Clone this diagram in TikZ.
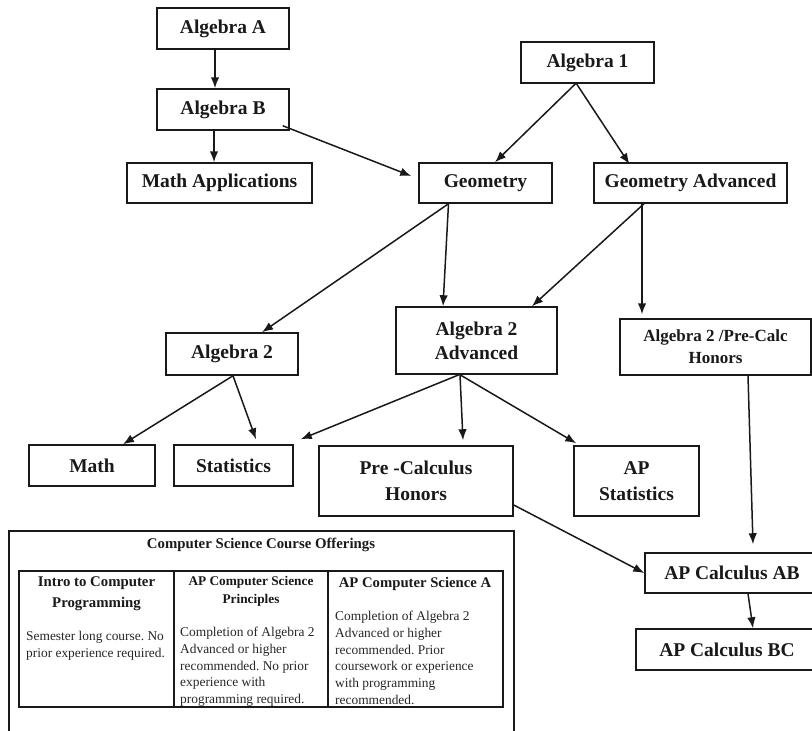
\documentclass[tikz,border=0pt]{standalone}
\usepackage{fontspec}
\setmainfont{Liberation Serif}
\usetikzlibrary{arrows.meta}
\tikzset{
  box/.style={draw=black!90, line width=1.5pt, fill=white, text=black!90, align=center, inner sep=0pt,
    font=\bfseries\fontsize{19.5}{22}\selectfont},
  arr/.style={-{Latex[length=11pt,width=8.5pt]}, line width=1.5pt, draw=black!90},
  bodytext/.style={anchor=north west, inner sep=0pt, align=left, text=black!85,
    font=\fontsize{13.4}{16.7}\selectfont},
  headtext/.style={inner sep=0pt, align=center, text=black!90},
}
\frenchspacing
\begin{document}
\begin{tikzpicture}[x=1pt,y=-1pt]
\useasboundingbox (0,0) rectangle (812,731);
\clip (0,0) rectangle (812,731);
% course boxes
\node[box, minimum width=132pt, minimum height=41pt] (algA) at (223,28.5) {Algebra A};
\node[box, minimum width=132pt, minimum height=41pt] (algB) at (223,109.5) {Algebra B};
\node[box, minimum width=185pt, minimum height=40pt] (mathapp) at (219.5,183) {Math Applications};
\node[box, minimum width=133pt, minimum height=41pt] (alg1) at (587.5,62.5) {Algebra 1};
\node[box, minimum width=133pt, minimum height=40pt] (geom) at (485.5,183) {Geometry};
\node[box, minimum width=193pt, minimum height=40pt] (geomadv) at (690.5,183) {Geometry Advanced};
\node[box, minimum width=132pt, minimum height=42pt] (alg2) at (232,354) {Algebra 2};
\node[box, minimum width=161pt, minimum height=67pt, font=\bfseries\fontsize{19.5}{24}\selectfont] (alg2adv) at (476.5,340.5) {Algebra 2\\Advanced};
\node[box, minimum width=191pt, minimum height=56pt, font=\bfseries\fontsize{17}{22}\selectfont] (alg2pc) at (715.5,347) {Algebra 2 /Pre-Calc\\Honors};
\node[box, minimum width=126pt, minimum height=41pt] (math) at (92,465.5) {Math};
\node[box, minimum width=119pt, minimum height=41pt] (stats) at (233.5,465.5) {Statistics};
\node[box, minimum width=194pt, minimum height=70pt, font=\bfseries\fontsize{19.5}{26}\selectfont] (precalc) at (416,481) {Pre -Calculus\\Honors};
\node[box, minimum width=125pt, minimum height=70pt, font=\bfseries\fontsize{19.5}{26}\selectfont] (apstats) at (636.5,481) {AP\\Statistics};
\node[box, minimum width=174pt, minimum height=40pt] (apab) at (732,573) {AP Calculus AB};
\node[box, minimum width=182pt, minimum height=41pt] (apbc) at (727,649.5) {AP Calculus BC};
% connectors
\draw[arr] ([xshift=-8pt]algA.south) -- ([xshift=-8pt]algB.north);
\draw[arr] ([xshift=-9pt]algB.south) -- ([xshift=-5.5pt]mathapp.north);
\draw[arr] ([xshift=-7pt,yshift=5pt]algB.south east) -- ([xshift=-7pt,yshift=7pt]geom.west);
\draw[arr] ([xshift=-12pt]alg1.south) -- ([xshift=9.5pt]geom.north);
\draw[arr] ([xshift=-11pt]alg1.south) -- ([xshift=-61pt,yshift=-2pt]geomadv.north);
\draw[arr] ([xshift=-37pt]geom.south) -- ([xshift=30pt]alg2.north);
\draw[arr] ([xshift=-37pt]geom.south) -- ([xshift=-33.5pt]alg2adv.north);
\draw[arr] ([xshift=-46.5pt]geomadv.south) -- ([xshift=55.5pt]alg2adv.north);
\draw[arr] ([xshift=-48.5pt]geomadv.south) -- ([xshift=-73.5pt,yshift=4pt]alg2pc.north);
\draw[arr] ([xshift=1pt]alg2.south) -- ([xshift=31pt]math.north);
\draw[arr] ([xshift=1pt]alg2.south) -- ([xshift=22.5pt,yshift=5pt]stats.north);
\draw[arr] ([xshift=-17.5pt]alg2adv.south) -- ([xshift=7pt,yshift=5pt]stats.north east);
\draw[arr] ([xshift=-16.5pt]alg2adv.south) -- ([xshift=47pt,yshift=5pt]precalc.north);
\draw[arr] ([xshift=-16.5pt]alg2adv.south) -- ([xshift=3pt,yshift=2pt]apstats.north west);
\draw[arr] ([yshift=-24pt]precalc.east) -- (apab.west);
\draw[arr] ([xshift=32.5pt]alg2pc.south) -- ([xshift=21pt,yshift=8pt]apab.north);
\draw[arr] ([xshift=16pt]apab.south) -- ([xshift=26pt]apbc.north);
% computer science panel
\node[draw=black!90, line width=1.9pt, minimum width=505pt, minimum height=240pt, inner sep=0pt, anchor=north west] (cs) at (8,530) {};
\node[headtext, font=\bfseries\fontsize{14.8}{17}\selectfont] (cstitle) at (261,545) {Computer Science Course Offerings};
\draw[line width=1.4pt, draw=black!90] (19,571) rectangle (503,707);
\draw[line width=1.4pt, draw=black!90] (174,571) -- (174,707);
\draw[line width=1.4pt, draw=black!90] (328,571) -- (328,707);
\node[headtext, font=\bfseries\fontsize{14.8}{21}\selectfont] (h1) at (96.5,594) {Intro to Computer\\Programming};
\node[headtext, font=\bfseries\fontsize{13.3}{18}\selectfont] (h2) at (251,591) {AP Computer Science\\Principles};
\node[headtext, font=\bfseries\fontsize{14.7}{17}\selectfont] (h3) at (415,584) {AP Computer Science A};
\node[bodytext] (b1) at (26,631) {Semester long course. No\\prior experience required.};
\node[bodytext] (b2) at (180,627) {Completion of Algebra 2\\Advanced or higher\\recommended. No prior\\experience with\\programming required.};
\node[bodytext] (b3) at (335,611) {Completion of Algebra 2\\Advanced or higher\\recommended. Prior\\coursework or experience\\with programming\\recommended.};
\end{tikzpicture}
\end{document}
